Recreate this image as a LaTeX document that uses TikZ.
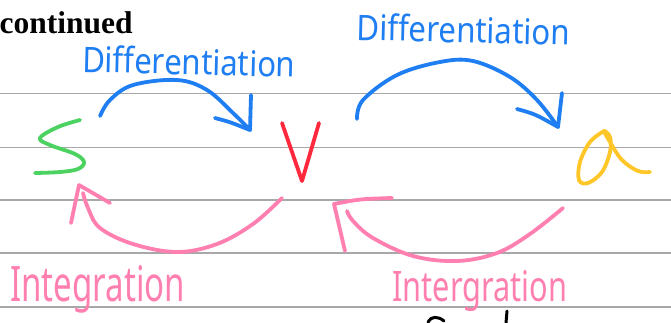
\documentclass[tikz,border=0pt]{standalone}
\usepackage{fontspec}
\setmainfont{Liberation Serif}
\newfontfamily\handfont{Noto Sans}
\definecolor{pblue}{RGB}{30,126,242}
\definecolor{ppink}{RGB}{255,128,176}
\definecolor{pgreen}{RGB}{76,210,96}
\definecolor{pred}{RGB}{255,40,60}
\definecolor{pyellow}{RGB}{255,198,40}
\definecolor{rule}{RGB}{168,168,168}
\begin{document}
\begin{tikzpicture}[x=1pt,y=-1pt,
  ink/.style={line width=3.8pt,line cap=round,line join=round},
  ruleline/.style={draw=rule,line width=1.1pt},
  hand/.style={inner sep=0pt,anchor=base west,font=\handfont}]
\useasboundingbox (0,0) rectangle (671,322);
\fill[white] (0,0) rectangle (671,322);
% ruled lines
\foreach \yy [count=\i] in {93.3,147.5,200,253,307}{
  \coordinate (rl\i) at (0,\yy); \coordinate (rr\i) at (671,\yy);
  \draw[ruleline] (rl\i) -- (rr\i);}
% heading
\node[inner sep=0pt,anchor=base west,font=\fontsize{31.5}{36}\selectfont\bfseries] (title) at (-0.5,33) {continued};
% letters
\coordinate (s0) at (80,120);
\draw[ink,pgreen] plot[smooth,tension=0.6] coordinates {(s0) (58,127) (40,138) (50,145) (75,154) (84,162) (78,169) (60,172) (35,173)};
\coordinate (v0) at (282,123);
\coordinate (v1) at (302,181);
\coordinate (v2) at (319,123);
\draw[ink,pred] (v0) -- (v1) -- (v2);
\coordinate (a0) at (604,131);
\draw[ink,pyellow] plot[smooth,tension=0.6] coordinates {(a0) (590,142) (580,162) (579,180) (588,183) (602,172) (610,152) (610,137) (604,131) (610,142) (622,160) (638,171) (650,172)};
% blue arcs (differentiation)
\coordinate (d1s) at (100,116);
\coordinate (d1e) at (250,130);
\draw[ink,pblue] plot[smooth,tension=0.6] coordinates {(d1s) (110,100) (133,85) (177,80) (207,90) (233,113) (d1e)};
\coordinate (d1a) at (215,118);
\coordinate (d1b) at (251,95);
\draw[ink,pblue] (d1a) .. controls (230,122) .. (d1e) -- (d1b);
\coordinate (d2s) at (357,119);
\coordinate (d2e) at (558,127);
\draw[ink,pblue] plot[smooth,tension=0.6] coordinates {(d2s) (363,100) (397,75) (440,62) (473,61) (510,77) (537,100) (d2e)};
\coordinate (d2a) at (517,109);
\coordinate (d2b) at (562,93);
\draw[ink,pblue] (d2a) .. controls (535,114) .. (d2e) -- (d2b);
% pink arcs (integration)
\coordinate (i1s) at (282,198);
\coordinate (i1e) at (83,193);
\draw[ink,ppink] plot[smooth,tension=0.6] coordinates {(i1s) (253,224) (217,244) (177,252) (133,244) (100,228) (88,208) (i1e)};
\coordinate (i1a) at (71,223);
\coordinate (i1t) at (79,185);
\coordinate (i1b) at (110,203);
\draw[ink,ppink] (i1a) -- (i1t) -- (i1b);
\coordinate (i2s) at (563,208);
\coordinate (i2e) at (347,211);
\draw[ink,ppink] plot[smooth,tension=0.6] coordinates {(i2s) (530,234) (497,253) (457,261) (413,256) (373,238) (353,221) (i2e)};
\coordinate (i2a) at (345,251);
\coordinate (i2t) at (334,204);
\coordinate (i2b) at (392,198);
\draw[ink,ppink] (i2a) -- (i2t) .. controls (360,199) .. (i2b);
% labels
\node[hand,text=pblue,rotate=-1.4] (lab1) at (82,72) {\resizebox{213pt}{27pt}{Differentiation}};
\node[hand,text=pblue,rotate=-1.4] (lab2) at (356,40) {\resizebox{214pt}{27pt}{Differentiation}};
\node[hand,text=ppink] (lab3) at (10,301) {\resizebox{175pt}{36pt}{Integration}};
\node[hand,text=ppink] (lab4) at (392,301) {\resizebox{175pt}{31pt}{Intergration}};
% black scribble at the bottom
\coordinate (k0) at (428,322);
\coordinate (k1) at (444,321);
\draw[ink,black,line width=3pt] (k0) .. controls (431,316) and (438,316) .. (k1);
\coordinate (k2) at (507,311);
\coordinate (k3) at (506,323);
\draw[ink,black,line width=3pt] (k2) -- (k3);
\end{tikzpicture}
\end{document}
